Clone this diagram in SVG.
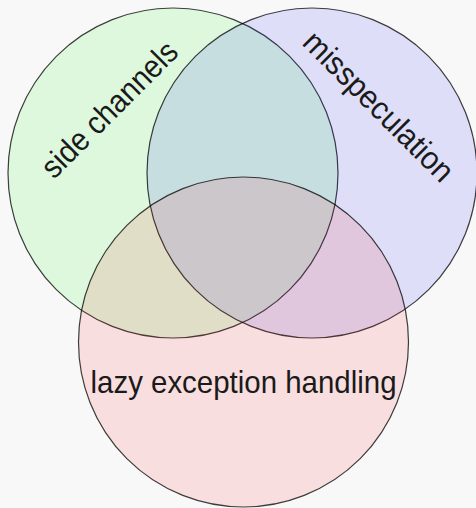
<svg xmlns="http://www.w3.org/2000/svg" width="476" height="508" viewBox="0 0 476 508">
  <style>
    .set { stroke: #000; stroke-opacity: 0.75; stroke-width: 1.2; fill-opacity: 0.1; }
    .label { font-family: "Liberation Sans", Arial, sans-serif; font-size: 32px; fill: #1a1a1a; text-anchor: middle; }
  </style>
  <rect width="476" height="508" fill="#f8f8f8"/>
  <g id="side-channels">
    <circle class="set" cx="173" cy="173" r="165" fill="#00ff00"/>
  </g>
  <g id="misspeculation">
    <circle class="set" cx="312" cy="173" r="165" fill="#0000ff"/>
  </g>
  <g id="lazy-exception-handling">
    <circle class="set" cx="243.5" cy="342" r="165" fill="#ff0000"/>
  </g>
  <g id="labels">
    <text class="label" transform="translate(117,117) rotate(-45)" textLength="178" lengthAdjust="spacingAndGlyphs">side channels</text>
    <text class="label" transform="translate(371,114) rotate(45)" textLength="198" lengthAdjust="spacingAndGlyphs">misspeculation</text>
    <text class="label" x="243.5" y="393" textLength="306" lengthAdjust="spacingAndGlyphs">lazy exception handling</text>
  </g>
</svg>
